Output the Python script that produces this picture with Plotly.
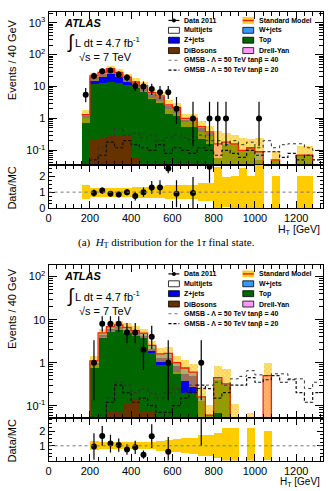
import plotly.graph_objects as go

W, H = 330, 491

# ---------------- data (bin centres, 40 GeV bins) ----------------
centers = [180, 220, 260, 300, 340, 380, 420, 460, 500, 540, 580, 620, 660, 700, 740,
           780, 820, 860, 900, 940, 980, 1020, 1060, 1100, 1140, 1180, 1220, 1260, 1300]
BW = 40

# Panel (a): 1 tau
dib_a = [0, 0.22, 0.27, 0.29, 0.29, 0.28, 0.059, 0, 0, 0, 0, 0, 0, 0, 0, 0, 0, 0, 0, 0, 0, 0, 0, 0, 0, 0, 0, 0, 0]
top_a = [1.1, 12, 13, 14, 13, 11, 9, 7.5, 4.5, 3.6, 2.0, 1.5, 0.8, 0.85, 0.4, 0.3, 0.06, 0.15, 0.16, 0.1, 0.12, 0.05, 0, 0.05, 0, 0, 0.07, 0.07, 0]
zj_a = [0.1, 8, 13, 20, 13, 7, 4, 2.5, 1.5, 1.1, 0.5, 0.55, 0.15, 0.12, 0.12, 0.05, 0, 0, 0, 0, 0, 0, 0, 0, 0, 0, 0, 0, 0]
wj_a = [0.1, 1, 1, 1.5, 1.5, 1.2, 0.8, 0.7, 0.4, 0.4, 0.15, 0.15, 0.05, 0.03, 0.03, 0.03, 0, 0.03, 0, 0, 0, 0.04, 0, 0, 0, 0, 0, 0, 0]
dy_a = [0, 0.3, 0.3, 0.5, 0, 0, 0, 0, 0, 0, 0, 0, 0, 0, 0, 0, 0.1, 0, 0, 0, 0, 0, 0, 0, 0, 0, 0, 0, 0]
mj_a = [0] * 29
unc_a = [0.45, 0.28, 0.28, 0.28, 0.28, 0.28, 0.35, 0.35, 0.35, 0.37, 0.45, 0.45, 0.45, 0.45, 0.58,
         0.58, 1.6, 0.95, 1.0, 1.5, 1.0, 1.7, 0, 1.0, 0, 0, 1.0, 1.0, 0]
data_a = [5.5, 21.5, 30, 32, 24, 19, 10.4, 10, 8.3, 6.6, 6.6, 2, 0, 1, 0, 1, 1, 1, 0, 0, 0, 1, 0, 0, 0, 0, 0, 0, 0]
g40_a = [0, 0.04, 0.12, 0.25, 0.5, 0.3, 0.35, 0.25, 0.3, 0.2, 0.25, 0.3, 0.25, 0.2, 0.3, 0.2, 0.2, 0.15,
         0.2, 0.15, 0.18, 0.12, 0.2, 0.12, 0.15, 0.16, 0.16, 0.12, 0.1]
g20_a = [0, 0.05, 0.07, 0.18, 0.12, 0.2, 0.15, 0.12, 0.1, 0.15, 0.08, 0.12, 0.1, 0.08, 0.12, 0.1, 0.07,
         0.1, 0.08, 0.06, 0.1, 0.07, 0.09, 0.09, 0.06, 0.08, 0.05, 0.07, 0.05]
rx_a = [220, 260, 300, 340, 380, 420, 460, 500, 540, 580, 620, 700, 780]
rv_a = [0.95, 1.1, 0.9, 0.85, 1.0, 0.75, 1.0, 1.3, 1.3, 2.5, 0.9, 0.95, 2.6]
re_a = [0.22, 0.2, 0.17, 0.18, 0.2, 0.28, 0.3, 0.4, 0.45, 0.3, 0.85, 1.0, 1.0]

# Panel (b)
dib_b = [0, 0, 0, 0.075, 0.075, 0.11, 0.14, 0.075, 0.075, 0, 0, 0, 0, 0, 0, 0, 0, 0, 0, 0, 0, 0, 0, 0, 0, 0, 0, 0, 0]
top_b = [0, 0.9, 4.0, 5.5, 5.9, 5.1, 4.0, 3.6, 1.6, 0.9, 1.0, 0.6, 0.2, 0.2, 0.13, 0.06, 0.4, 0.3, 0.05, 0, 0.03, 0, 0, 0, 0, 0, 0, 0, 0]
zj_b = [0, 0.1, 0.4, 0.6, 0.7, 0.6, 0.7, 0.5, 0.4, 0.35, 0.3, 0.25, 0.35, 0.3, 0, 0, 0, 0, 0, 0, 0, 0, 0, 0, 0, 0, 0, 0, 0]
wj_b = [0, 0.1, 0.5, 0.7, 0.9, 0.8, 0.7, 0.7, 0.45, 0.35, 0.35, 0.15, 0.2, 0.1, 0.03, 0, 0.05, 0.02, 0, 0, 0, 0, 0, 0, 0, 0, 0, 0, 0]
dy_b = [0, 0, 0, 0, 0, 0, 0, 0, 0, 0, 0, 0, 0, 0, 0, 0, 0, 0, 0, 0, 0, 0, 0.5, 0, 0, 0, 0, 0, 0]
mj_b = [0] * 29
unc_b = [0, 0.3, 0.25, 0.25, 0.25, 0.25, 0.25, 0.25, 0.25, 0.35, 0.4, 0.45, 0.5, 0.55, 0.7, 0.7,
         0.85, 1.2, 1.2, 0, 1.2, 0, 1.0, 0, 0, 0, 0, 0, 0]
data_b = [0, 1, 8, 8, 8, 5, 5, 2, 4, 0, 1, 0, 0, 0, 1, 0, 0, 0, 0, 0, 0, 0, 0, 0, 0, 0, 0, 0, 0]
g40_b = [0, 0, 0.06, 0.15, 0.35, 0.3, 0.2, 0.25, 0.2, 0.15, 0.2, 0.25, 0.2, 0.3, 0.25, 0.3, 0.35, 0.3,
         0.42, 0.48, 0.65, 0.52, 0.5, 0.55, 0.55, 0.42, 0.42, 0.25, 0.35]
g20_b = [0, 0, 0.05, 0.12, 0.3, 0.2, 0.12, 0.15, 0.1, 0.07, 0.07, 0.1, 0.15, 0.2, 0.3, 0.25, 0.15, 0.2,
         0.3, 0.3, 0.45, 0.35, 0.4, 0.5, 0.35, 0.4, 0.2, 0.12, 0.2]
rx_b = [220, 260, 300, 340, 380, 420, 460, 500, 580, 740]
rv_b = [0.95, 1.67, 1.15, 1.05, 0.75, 0.9, 0.4, 1.65, 0.6, 3.5]
re_b = [0.9, 0.66, 0.6, 0.45, 0.35, 0.45, 0.28, 0.8, 1.0, 2.5]

x_ticks = [0, 200, 400, 600, 800, 1000, 1200]

# ---------------- styling ----------------
C_DIB = "#663300"
C_TOP = "#006600"
C_ZJ = "#0000ee"
C_WJ = "#3399ff"
C_DY = "#ff99ff"
C_MJ = "#ffffff"
C_BAND = "rgba(255,204,0,0.55)"
C_HATCH = "rgba(255,120,0,0.75)"
C_SM = "#ee2200"
FONT = "Liberation Sans, Arial, sans-serif"

XMAX = 1328


def px(x):
    return x / W


def py(y):
    return 1 - y / H


fig = go.Figure()


def nz(v):
    return [a if a > 0 else None for a in v]


def step(vals):
    xs, ys = [], []
    for c, v in zip(centers, vals):
        xs.append(c - BW / 2)
        ys.append(v if v > 0 else 1e-5)
    xs.append(centers[-1] + BW / 2)
    ys.append(ys[-1])
    return xs, ys


def panel(xa, ya, xr, yr, dib, top, zj, wj, dy, mj, unc, data, g40, g20, rx, rv, re):
    layers = [dib, top, zj, wj, dy, mj]
    colors = [C_DIB, C_TOP, C_ZJ, C_WJ, C_DY, C_MJ]
    cums = []
    run = [0.0] * len(centers)
    for l in layers:
        run = [a + b for a, b in zip(run, l)]
        cums.append(run)
    sm = cums[-1]
    for cum, col in reversed(list(zip(cums, colors))):
        fig.add_trace(go.Bar(x=centers, y=nz(cum), width=BW, marker=dict(color=col, line=dict(width=0)),
                             xaxis=xa, yaxis=ya, showlegend=False, hoverinfo="skip"))
    # uncertainty band
    lo, sz = [], []
    for s, u in zip(sm, unc):
        if s > 0 and u > 0:
            l_ = s * (1 - u) if u < 1 else 1e-5
            lo.append(l_)
            sz.append(s * (1 + u) - l_)
        else:
            lo.append(None)
            sz.append(None)
    fig.add_trace(go.Bar(x=centers, y=sz, base=lo, width=BW,
                         marker=dict(color=C_BAND, line=dict(width=0),
                                     pattern=dict(shape="x", fgcolor=C_HATCH, size=3, solidity=0.3,
                                                  fillmode="overlay")),
                         xaxis=xa, yaxis=ya, showlegend=False, hoverinfo="skip"))
    # SM outline
    sx, sy = step(sm)
    fig.add_trace(go.Scatter(x=sx, y=sy, mode="lines", line=dict(color=C_SM, width=1.3, shape="hv"),
                             xaxis=xa, yaxis=ya, showlegend=False, hoverinfo="skip"))
    # GMSB
    gx, gy = step(g40)
    fig.add_trace(go.Scatter(x=gx, y=gy, mode="lines", line=dict(color="#333333", width=1, shape="hv", dash="dot"),
                             xaxis=xa, yaxis=ya, showlegend=False, hoverinfo="skip"))
    gx, gy = step(g20)
    fig.add_trace(go.Scatter(x=gx, y=gy, mode="lines", line=dict(color="#111111", width=1.2, shape="hv", dash="3px,2px"),
                             xaxis=xa, yaxis=ya, showlegend=False, hoverinfo="skip"))
    # data
    dx = [c for c, d in zip(centers, data) if d > 0]
    dv = [d for d in data if d > 0]
    up = [(d + 0.75) ** 0.5 + 1 for d in dv]
    dn = [(d - 0.25) ** 0.5 for d in dv]
    fig.add_trace(go.Scatter(x=dx, y=dv, mode="markers", marker=dict(color="black", size=6),
                             error_y=dict(type="data", array=up, arrayminus=dn, width=0, thickness=1.2, color="black"),
                             xaxis=xa, yaxis=ya, showlegend=False, hoverinfo="skip"))
    # ratio band
    rb_lo, rb_sz = [], []
    for s, u in zip(sm, unc):
        if s > 0 and u > 0:
            rb_lo.append(1 - u)
            rb_sz.append(2 * u)
        else:
            rb_lo.append(None)
            rb_sz.append(None)
    fig.add_trace(go.Bar(x=centers, y=rb_sz, base=rb_lo, width=BW, marker=dict(color="#ffcc00", line=dict(width=0)),
                         xaxis=xr, yaxis=yr, showlegend=False, hoverinfo="skip"))
    fig.add_trace(go.Scatter(x=rx, y=rv, mode="markers", marker=dict(color="black", size=6),
                             error_y=dict(type="data", array=re, width=0, thickness=1.2, color="black"),
                             xaxis=xr, yaxis=yr, showlegend=False, hoverinfo="skip"))


panel("x", "y", "x2", "y2", dib_a, top_a, zj_a, wj_a, dy_a, mj_a, unc_a, data_a, g40_a, g20_a, rx_a, rv_a, re_a)
panel("x3", "y3", "x4", "y4", dib_b, top_b, zj_b, wj_b, dy_b, mj_b, unc_b, data_b, g40_b, g20_b, rx_b, rv_b, re_b)

xdom = [px(46), px(322.5)]
dom_main_a = [py(167), py(11.7)]
dom_rat_a = [py(210.5), py(167)]
dom_main_b = [py(423.3), py(268.3)]
dom_rat_b = [py(466.3), py(423.3)]

common_ax = dict(showline=True, linecolor="black", linewidth=1, mirror="allticks", ticks="inside",
                 tickcolor="black", showgrid=False, zeroline=False,
                 tickfont=dict(family=FONT, size=11, color="black"))


def xax(dom, anchor, labels):
    d = dict(common_ax)
    d.update(domain=dom, anchor=anchor, range=[0, XMAX], tickvals=x_ticks, ticklen=7,
             showticklabels=labels, minor=dict(ticks="inside", ticklen=4, dtick=40, tickcolor="black"))
    return d


def ylog(dom, anchor, rng, vals, txt):
    d = dict(common_ax)
    d.update(domain=dom, anchor=anchor, type="log", range=rng, tickvals=vals, ticktext=txt, ticklen=8,
             minor=dict(ticks="inside", ticklen=4, tickcolor="black", dtick="D1"))
    return d


def ylin(dom, anchor, rng, vals):
    d = dict(common_ax)
    d.update(domain=dom, anchor=anchor, range=rng, tickvals=vals, ticklen=6,
             minor=dict(ticks="inside", ticklen=3, dtick=0.25, tickcolor="black"))
    return d


fig.update_layout(
    width=W, height=H, margin=dict(l=0, r=0, t=0, b=0),
    paper_bgcolor="white", plot_bgcolor="white",
    barmode="overlay", bargap=0,
    xaxis=xax(xdom, "y", False),
    yaxis=ylog(dom_main_a, "x", [-1.46, 3.35], [0.1, 1, 10, 100, 1000],
               ["10<sup>-1</sup>", "1", "10", "10<sup>2</sup>", "10<sup>3</sup>"]),
    xaxis2=xax(xdom, "y2", True),
    yaxis2=ylin(dom_rat_a, "x2", [0, 2.72], [0, 1, 2]),
    xaxis3=xax(xdom, "y3", False),
    yaxis3=ylog(dom_main_b, "x3", [-1.29, 2.27], [0.1, 1, 10, 100],
                ["10<sup>-1</sup>", "1", "10", "10<sup>2</sup>"]),
    xaxis4=xax(xdom, "y4", True),
    yaxis4=ylin(dom_rat_b, "x4", [0, 2.87], [1, 2]),
)

# dotted line at ratio = 1
for xr, yr in (("x2", "y2"), ("x4", "y4")):
    fig.add_shape(type="line", xref=xr, yref=yr, x0=0, x1=XMAX, y0=1, y1=1,
                  line=dict(color="#777777", width=1, dash="dot"), layer="above")

ann = []


def text(x, y, s, size=11, xanchor="left", yanchor="middle", angle=0, family=FONT, color="black"):
    ann.append(dict(x=px(x), y=py(y), xref="paper", yref="paper", text=s, showarrow=False,
                    xanchor=xanchor, yanchor=yanchor, textangle=angle,
                    font=dict(family=family, size=size, color=color)))


shapes = []


def box(x0, y0, x1, y1, fill, line="black", lw=0.8):
    shapes.append(dict(type="rect", xref="paper", yref="paper", x0=px(x0), x1=px(x1), y0=py(y1), y1=py(y0),
                       fillcolor=fill, line=dict(color=line, width=lw)))


def hline(x0, x1, y, color="black", width=1, dash="solid"):
    shapes.append(dict(type="line", xref="paper", yref="paper", x0=px(x0), x1=px(x1), y0=py(y), y1=py(y),
                       line=dict(color=color, width=width, dash=dash)))


def legend_block(off):
    rows = [20.7, 30.7, 40.7, 51.2, 61, 71]
    r = [v + off for v in rows]
    lx0, lx1, tx = 167, 178, 181
    rx0, rx1, rtx = 242, 253, 256
    lf = 7
    lfam = "Liberation Sans, Arial, sans-serif"
    # data
    hline(lx0, lx1, r[0], "black", 1.2)
    shapes.append(dict(type="circle", xref="paper", yref="paper", x0=px(170.5), x1=px(174.5),
                       y0=py(r[0] + 2), y1=py(r[0] - 2), fillcolor="black", line=dict(color="black", width=0)))
    text(tx, r[0], "<b>Data 2011</b>", lf, family=lfam)
    # SM
    box(rx0, r[0] - 3, rx1, r[0] + 3, "rgba(255,204,0,0.85)", line="rgba(255,170,0,1)", lw=0.5)
    hline(rx0, rx1, r[0], C_SM, 1.5)
    text(rtx, r[0], "<b>Standard Model</b>", lf, family=lfam)
    entries = [(r[1], lx0, tx, C_MJ, "Multijets"), (r[1], rx0, rtx, C_WJ, "W+jets"),
               (r[2], lx0, tx, C_ZJ, "Z+jets"), (r[2], rx0, rtx, C_TOP, "Top"),
               (r[3], lx0, tx, C_DIB, "DiBosons"), (r[3], rx0, rtx, C_DY, "Drell-Yan")]
    for yy, x0, txx, col, lab in entries:
        box(x0, yy - 3, x0 + 11, yy + 3, col)
        text(txx, yy, "<b>" + lab + "</b>", lf, family=lfam)
    hline(lx0, lx1, r[4], "#555555", 0.8, "dot")
    text(tx, r[4], "<b>GMSB - Λ = 50 TeV tanβ = 40</b>", lf, family=lfam)
    hline(lx0, lx1, r[5], "black", 1.2, "3px,2px")
    text(tx, r[5], "<b>GMSB - Λ = 50 TeV tanβ = 20</b>", lf, family=lfam)


def labels_block(off, ytitle_center, ratio_center, xtitle_top, xtitle_size):
    text(60, 23 + off, "<b><i>ATLAS</i></b>", 11)
    text(63, 43 + off, "∫", 19)
    text(71, 43 + off, "L dt = 4.7 fb<sup>-1</sup>", 11)
    text(75, 58 + off, "√s = 7 TeV", 11)
    text(9, ytitle_center, "Events / 40 GeV", 11, xanchor="center", angle=-90)
    text(9, ratio_center, "Data/MC", 11, xanchor="center", angle=-90)
    text(322, xtitle_top, "H<sub>T</sub> [GeV]", xtitle_size, xanchor="right", yanchor="top")


legend_block(0)
legend_block(256.6)
labels_block(0, 60, 190, 223.5, 10.5)
labels_block(256.6, 312, 446, 479.8, 10)
text(165, 246, "(a)  <i>H</i><sub>T</sub> distribution for the 1<i>τ</i> final state.", 11,
     xanchor="center", family="Liberation Serif, Times New Roman, serif")

fig.update_layout(annotations=ann, shapes=list(fig.layout.shapes) + shapes)
fig.write_html("out.html")
